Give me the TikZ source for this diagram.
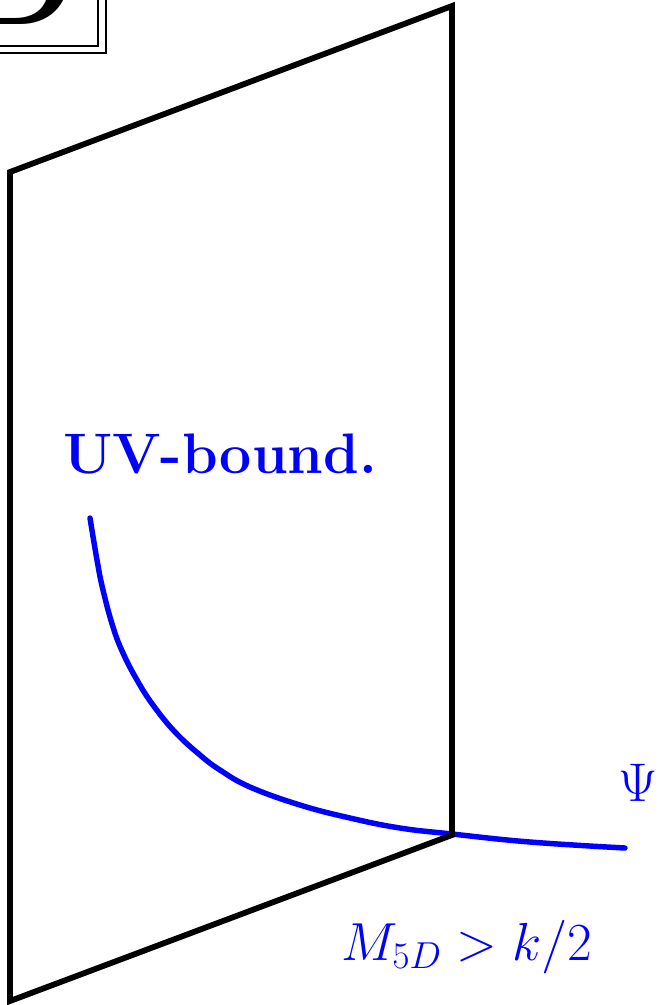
\RequirePackage{fix-cm}
\documentclass[tikz,border=0pt]{standalone}
\usepackage{amsmath}
\begin{document}
\begin{tikzpicture}[x=0.02cm, y=-0.02cm, line join=miter,
  brane/.style={line width=3.3pt},
  wave/.style={blue, line width=3.1pt, line cap=round},
  frame/.style={line width=1.6pt},
  lbl/.style={blue, inner sep=0pt}]
  \useasboundingbox (0,0) rectangle (662,1005);
  % cut-off title box
  \draw[frame] (-200,-200) rectangle (106,53);
  \draw[frame] (-200,-200) rectangle (98,46);
  \node[anchor=south east, inner sep=0pt] (title) at (78,27) {\fontsize{80}{86}\selectfont\bfseries 5D};
  % zero mode profile
  \draw[wave] plot[smooth, tension=0.7] coordinates {(90,518) (97,560) (103,590) (113,627) (123,653) (137,680) (153,705) (175,732) (200,755) (220,770) (250,787) (300,805) (350,818) (400,828) (452,834) (530,842) (625,848)};
  % UV brane
  \draw[brane] (10,1001) -- (10,172) -- (452,6) -- (452,835) -- cycle;
  \node[lbl, anchor=base] (uv) at (220,473) {\fontsize{32.5}{38}\selectfont\bfseries UV-bound.};
  \node[lbl] (psi) at (638,783) {\fontsize{31}{36}\selectfont$\Psi$};
  \node[lbl, anchor=base] (mass) at (467,960) {\fontsize{30.5}{36}\selectfont$M_{5D}>k/2$};
\end{tikzpicture}
\end{document}
